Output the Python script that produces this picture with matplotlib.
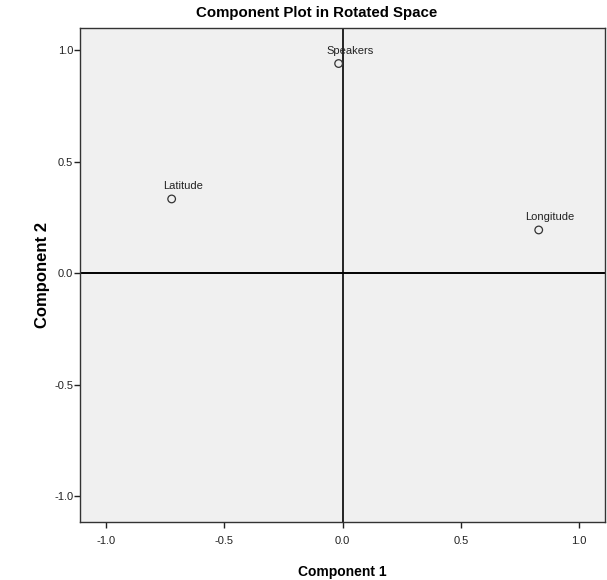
import matplotlib
matplotlib.use("Agg")
import matplotlib.pyplot as plt
from matplotlib import font_manager

names = {f.name for f in font_manager.fontManager.ttflist}
narrow = "Liberation Sans Narrow" if "Liberation Sans Narrow" in names else "Liberation Sans"

variables = ["Speakers", "Latitude", "Longitude"]
comp1 = [-0.017, -0.723, 0.829]
comp2 = [0.940, 0.333, 0.194]
ticks = [-1.0, -0.5, 0.0, 0.5, 1.0]
tick_labels = ["-1.0", "-0.5", "0.0", "0.5", "1.0"]

fig = plt.figure(figsize=(6.07, 5.80), dpi=100)
ax = fig.add_axes([0.132, 0.10, 0.865, 0.852])
ax.set_facecolor("#F0F0F0")
ax.set_xlim(-1.11, 1.11)
ax.set_ylim(-1.115, 1.10)

ax.axhline(0, color="black", lw=1.4, zorder=1)
ax.axvline(0, color="black", lw=1.2, zorder=1)

ax.scatter(comp1, comp2, s=30, facecolors="none", edgecolors="#333333", linewidths=0.9, zorder=3)
for name, x, y in zip(variables, comp1, comp2):
    ax.annotate(name, (x, y), xytext=(11, 8), textcoords="offset pixels",
                ha="center", va="bottom", fontsize=8, family=narrow, color="#222222")

ax.set_xticks(ticks)
ax.set_xticklabels(tick_labels, family=narrow, fontsize=8)
ax.set_yticks(ticks)
ax.set_yticklabels(tick_labels, family=narrow, fontsize=8)
ax.tick_params(direction="out", length=4, width=1, colors="#222222")
ax.tick_params(axis="x", pad=6)
ax.tick_params(axis="y", pad=1)
for s in ax.spines.values():
    s.set_color("#333333")
    s.set_linewidth(1.0)

fig.text(317 / 607, 1 - 13 / 580, "Component Plot in Rotated Space", fontsize=10.8,
         fontweight="bold", family=narrow, ha="center", va="center")
ax.set_xlabel("Component 1", fontsize=10, fontweight="bold", family=narrow, labelpad=14)
ax.set_ylabel("Component 2", fontsize=12, fontweight="bold", family="Liberation Sans", labelpad=3)

fig.savefig("out.png", dpi=100)
